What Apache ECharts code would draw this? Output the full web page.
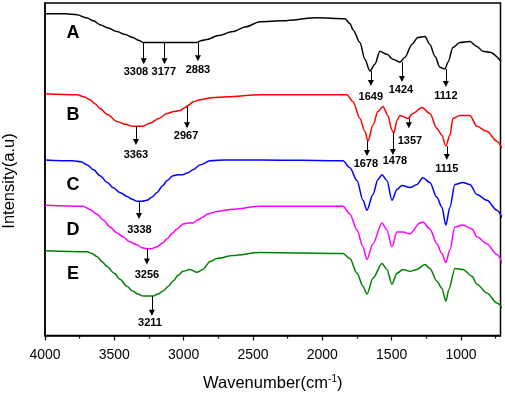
<!DOCTYPE html>
<html>
<head>
<meta charset="utf-8">
<script src="https://cdn.jsdelivr.net/npm/echarts@6/dist/echarts.min.js"></script>
<style>
  html, body { margin: 0; padding: 0; background: #fff; }
  #main { width: 505px; height: 397px; }
</style>
</head>
<body>
<div id="main"></div>
<script>
// wavenumber (cm-1), intensity (a.u., arbitrary offset units)
const curveA = [[4000,326],[3850,326],[3769,325],[3700,322],[3650,319],[3603,315],[3550,312],[3481,308],
  [3420,305],[3366,302],[3320,299],[3293,297],[3200,297],[3099,297],[3000,297],[2904,297],[2870,299],
  [2832,300],[2750,304],[2645,308],[2550,313],[2450,318],[2284,319],[2039,322],[1837,321],[1800,316],
  [1779,310],[1729,297],[1693,280],[1657,268],[1621,275],[1585,288],[1534,285],[1491,280],[1440,277],
  [1404,282],[1354,295],[1311,302],[1260,303],[1224,295],[1188,283],[1152,272],[1116,270],[1094,277],
  [1058,292],[1008,297],[936,298],[885,293],[842,288],[792,287],[712,278]];
const curveB = [[4000,245],[3769,244],[3720,242],[3676,239],[3640,235],[3603,230],[3550,224],[3481,217],
  [3420,214],[3366,212],[3300,212],[3243,215],[3180,220],[3120,225],[3070,227],[3027,228],[2990,231],
  [2969,233],[2930,237],[2882,239],[2800,241],[2688,242],[2450,244],[1823,244],[1779,237],[1729,220],
  [1693,207],[1671,197],[1635,213],[1599,227],[1563,232],[1527,223],[1498,208],[1484,205],[1462,218],
  [1440,223],[1383,220],[1347,225],[1282,231],[1224,225],[1174,210],[1138,203],[1109,192],[1080,203],
  [1058,220],[1008,223],[936,223],[885,212],[813,207],[741,197],[705,190]];
const curveC = [[4000,178],[3798,177],[3740,176],[3697,173],[3650,168],[3603,162],[3550,155],[3510,150],
  [3460,145],[3409,141],[3370,138],[3337,136],[3300,136],[3265,137],[3230,140],[3192,145],[3150,152],
  [3120,157],[3077,162],[3040,163],[3005,163],[2970,165],[2933,168],[2880,173],[2810,177],[2700,178],
  [2450,178],[1851,177],[1801,170],[1750,157],[1707,137],[1678,127],[1635,143],[1599,158],[1570,163],
  [1534,157],[1498,137],[1462,148],[1426,152],[1368,150],[1318,153],[1275,160],[1224,155],[1174,140],
  [1138,130],[1109,112],[1080,130],[1044,153],[986,155],[936,153],[885,143],[813,137],[741,127],[698,118]];
const curveD = [[4000,132],[3726,131],[3680,128],[3625,123],[3580,117],[3531,110],[3480,104],[3438,100],
  [3390,95],[3337,92],[3300,89],[3265,88],[3230,88],[3192,90],[3150,94],[3120,98],[3080,104],[3048,108],
  [3005,113],[2970,114],[2933,114],[2900,117],[2861,120],[2832,123],[2750,126],[2645,128],[2450,131],
  [1851,131],[1801,123],[1750,107],[1707,90],[1678,77],[1635,93],[1570,114],[1534,107],[1498,90],
  [1462,105],[1419,105],[1368,103],[1296,114],[1275,115],[1224,108],[1174,93],[1138,83],[1109,74],
  [1080,87],[1044,110],[986,112],[921,108],[885,100],[813,93],[741,82],[698,72]];
const curveE = [[4000,86],[3697,85],[3660,83],[3625,80],[3590,75],[3553,70],[3500,63],[3459,57],
  [3410,50],[3366,45],[3330,42],[3293,40],[3221,40],[3185,42],[3149,45],[3110,50],[3077,55],[3040,61],
  [3005,65],[2955,67],[2904,64],[2861,67],[2810,75],[2760,78],[2645,81],[2450,84],[1851,83],[1801,78],
  [1750,63],[1707,50],[1678,42],[1635,58],[1570,73],[1534,67],[1498,52],[1462,63],[1419,67],[1368,65],
  [1318,67],[1260,72],[1224,68],[1174,55],[1138,48],[1109,35],[1087,47],[1044,68],[986,67],[921,60],
  [885,52],[813,43],[741,33],[698,27]];

const curveNames = ['A', 'B', 'C', 'D', 'E'];
const curveColors = ['#000000', '#ff0000', '#0000ff', '#ff00ff', '#008000'];
const nameY = [307, 223, 152, 107, 62];
const nameWn = 3798;

const majorTicks = [4000, 3500, 3000, 2500, 2000, 1500, 1000];
const minorTicks = [3750, 3250, 2750, 2250, 1750, 1250, 750];

// [curve, text, arrow wavenumber, arrow from, arrow to, label wavenumber, label y]
const peaks = [
  ['A', '3308', 3288, 297, 278, 3344, 267],
  ['A', '3177', 3138, 297, 278, 3143, 267],
  ['A', '2883', 2897, 297, 281, 2897, 269],
  ['A', '1649', 1650, 268, 256, 1650, 242],
  ['A', '1424', 1426, 277, 260, 1433, 249],
  ['A', '1112', 1109, 270, 255, 1109, 243],
  ['B', '3363', 3344, 212, 196, 3344, 183],
  ['B', '2967', 2976, 232, 213, 2983, 202],
  ['B', '1678', 1678, 197, 185, 1686, 174],
  ['B', '1478', 1491, 205, 186, 1476, 177],
  ['B', '1357', 1376, 220, 213, 1368, 197],
  ['B', '1115', 1102, 192, 181, 1102, 169],
  ['C', '3338', 3322, 136, 121, 3319, 107],
  ['D', '3256', 3265, 88, 75, 3265, 61],
  ['E', '3211', 3229, 40, 23, 3243, 13]
];

const curves = [curveA, curveB, curveC, curveD, curveE];
const font = '"Liberation Sans", Arial, sans-serif';

const series = curves.map(function (pts, i) {
  const name = curveNames[i];
  const mine = peaks.filter(function (p) { return p[0] === name; });
  return {
    name: name,
    type: 'line',
    data: pts,
    showSymbol: false,
    symbol: 'none',
    smooth: 0.3,
    smoothMonotone: 'x',
    animation: false,
    lineStyle: { color: curveColors[i], width: 1.5 },
    markLine: {
      silent: true,
      animation: false,
      symbol: ['none', 'triangle'],
      symbolSize: 6,
      lineStyle: { color: '#000', width: 1, type: 'solid' },
      label: { show: false },
      data: mine.map(function (p) {
        return [{ coord: [p[2], p[3]] }, { coord: [p[2], p[4]] }];
      })
    },
    markPoint: {
      silent: true,
      animation: false,
      symbol: 'circle',
      symbolSize: 0,
      data: [{
        name: name, coord: [nameWn, nameY[i]],
        label: { show: true, position: 'inside', formatter: name, color: '#000',
          fontFamily: font, fontWeight: 'bold', fontSize: 18 }
      }].concat(mine.map(function (p) {
        return {
          name: p[1], coord: [p[5], p[6]],
          label: { show: true, position: 'inside', formatter: p[1], color: '#000',
            fontFamily: font, fontWeight: 'bold', fontSize: 11 }
        };
      }))
    }
  };
});

const chart = echarts.init(document.getElementById('main'));
chart.setOption({
  backgroundColor: '#fff',
  animation: false,
  grid: { left: 45, right: 4.5, top: 3, bottom: 57, show: true,
    borderColor: '#000', borderWidth: 1.5, backgroundColor: 'transparent' },
  xAxis: [{
    type: 'value', inverse: true, min: 715, max: 4000,
    splitLine: { show: false },
    axisLine: { show: true, lineStyle: { color: '#000', width: 1.5 } },
    axisTick: { show: true, length: 5, customValues: majorTicks, lineStyle: { color: '#000', width: 1.2 } },
    axisLabel: { customValues: majorTicks, color: '#000', fontFamily: font, fontSize: 14, margin: 13,
      formatter: function (v) { return String(v); } },
    name: '{b|Wavenumber(cm}{s|-1}{b|)}',
    nameLocation: 'middle',
    nameGap: 39,
    nameTextStyle: {
      rich: {
        b: { fontFamily: font, fontSize: 16.5, color: '#000', lineHeight: 18 },
        s: { fontFamily: font, fontSize: 10, color: '#000', verticalAlign: 'top', lineHeight: 10 }
      }
    }
  }, {
    type: 'value', inverse: true, min: 715, max: 4000, position: 'bottom',
    splitLine: { show: false },
    axisLine: { show: false },
    axisLabel: { show: false },
    axisTick: { show: true, length: 3, customValues: minorTicks, lineStyle: { color: '#000', width: 1.2 } }
  }],
  yAxis: {
    type: 'value', min: 0, max: 337,
    splitLine: { show: false },
    axisLine: { show: true, lineStyle: { color: '#000', width: 1.5 } },
    axisTick: { show: false },
    axisLabel: { show: false }
  },
  graphic: [{
    type: 'text', x: 9, y: 181, rotation: Math.PI / 2,
    style: { text: 'Intensity(a.u)', fill: '#000', font: '16.5px ' + font,
      align: 'center', verticalAlign: 'middle' }
  }],
  series: series
});
window.onresize = function () { chart.resize(); };
</script>
</body>
</html>
